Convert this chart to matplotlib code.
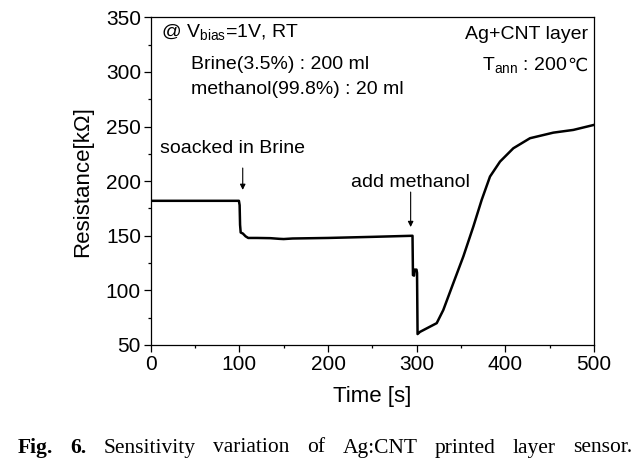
import matplotlib
matplotlib.use("Agg")
import matplotlib.pyplot as plt
from matplotlib.ticker import MultipleLocator

# ---- data ----
time_s = [0, 99.5, 100.3, 100.8, 101.5, 104, 107, 110, 120, 135, 145, 150, 160,
          200, 250, 295.3, 295.8, 297.0, 297.6, 299.8, 300.4, 301.0, 303.7,
          322.6, 330, 341.3, 352.6, 363.9, 373.3, 382.7, 394, 409, 427.8,
          454.1, 476.7, 500]
resistance_kohm = [182, 182, 178, 160, 153, 152, 149.5, 148, 148, 147.8, 147.2, 147, 147.5,
                   148, 149, 150, 114, 113.5, 119, 119, 116, 60, 62,
                   70, 82, 106.6, 131, 158.4, 182.8, 204.2, 217.9, 230.1, 239.3,
                   244.4, 246.9, 251.5]

x_ticks = [0, 100, 200, 300, 400, 500]
y_ticks = [50, 100, 150, 200, 250, 300, 350]

caption_words = ["Fig.", "6.", "Sensitivity", "variation", "of", "Ag:CNT",
                 "printed", "layer", "sensor."]

# ---- figure ----
W, H = 643, 468
fig = plt.figure(figsize=(W / 100, H / 100), dpi=100)
left, right, top, bottom = 150.7, 594.0, 17.3, 345.0
ax = fig.add_axes([left / W, 1 - bottom / H, (right - left) / W, (bottom - top) / H])

sans = ["Liberation Sans", "DejaVu Sans"]
serif = "Liberation Serif"

ax.plot(time_s, resistance_kohm, color="black", lw=1.8, solid_joinstyle="round")

ax.set_xlim(0, 500)
ax.set_ylim(50, 350)
ax.set_xticks(x_ticks)
ax.set_yticks(y_ticks)
ax.xaxis.set_minor_locator(MultipleLocator(50))
ax.yaxis.set_minor_locator(MultipleLocator(25))
ax.tick_params(which="major", direction="out", length=5, width=0.9, labelsize=15, pad=2)
ax.tick_params(which="minor", direction="out", length=2.5, width=0.9)
ax.tick_params(top=False, right=False)
for lab in ax.get_xticklabels() + ax.get_yticklabels():
    lab.set_fontfamily(sans)
for s in ax.spines.values():
    s.set_linewidth(0.9)

ax.set_xlabel("Time [s]", fontsize=16, fontfamily=sans, labelpad=9)
ax.set_ylabel("Resistance[k\u03a9]", fontsize=16, fontfamily=sans, labelpad=9)

fs = 14
ax.text(12, 335.6, r"@ V$_{\mathregular{bias}}$=1V, RT", fontsize=fs, fontfamily=sans,
        ha="left", va="center")
ax.text(46, 306.5, "Brine(3.5%) : 200 ml", fontsize=fs, fontfamily=sans, ha="left", va="center")
ax.text(46, 284, "methanol(99.8%) : 20 ml", fontsize=fs, fontfamily=sans, ha="left", va="center")
ax.text(493, 333.8, "Ag+CNT layer", fontsize=fs, fontfamily=sans, ha="right", va="center")

# "T_ann : 200℃" -- degree-Celsius sign drawn separately in DejaVu Sans
deg = ax.text(493, 306, "\u2103", fontsize=fs - 1, fontfamily="DejaVu Sans",
              ha="right", va="center")
fig.canvas.draw()
deg_w_pts = deg.get_window_extent().width * 72 / fig.dpi
ax.annotate(r"T$_{\mathregular{ann}}$ : 200", xy=(493, 306), xytext=(-deg_w_pts, 0),
            textcoords="offset points", fontsize=fs, fontfamily="Liberation Sans",
            ha="right", va="center")

ax.text(10, 230, "soacked in Brine", fontsize=fs, fontfamily=sans, ha="left", va="center")
ax.text(293, 198.5, "add methanol", fontsize=fs, fontfamily=sans, ha="center", va="center")

arrow = dict(arrowstyle="-|>", lw=0.8, color="black", mutation_scale=8, shrinkA=0, shrinkB=0)
ax.annotate("", xy=(103.8, 192), xytext=(103.8, 212), arrowprops=arrow)
ax.annotate("", xy=(293.2, 158), xytext=(293.2, 190), arrowprops=arrow)

# ---- caption (justified words between x0 and x1) ----
x0, x1 = 18.0, 632.0
cap_y = 1 - 448 / H
texts = []
for i, w in enumerate(caption_words):
    t = fig.text(0, cap_y, w, fontsize=15.5, fontfamily=serif,
                 fontweight="bold" if i < 2 else "normal", ha="left", va="center")
    texts.append(t)
fig.canvas.draw()
widths = [t.get_window_extent().width for t in texts]
gap = (x1 - x0 - sum(widths)) / (len(texts) - 1)
xp = x0
for t, wd in zip(texts, widths):
    t.set_x(xp / W)
    xp += wd + gap

fig.savefig("out.png", dpi=100)
